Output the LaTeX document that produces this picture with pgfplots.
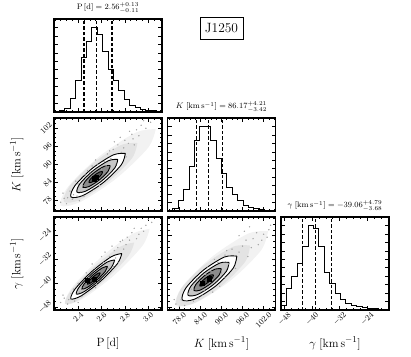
\documentclass[border=0pt]{standalone}
\usepackage{pgfplots}
\pgfplotsset{compat=1.18}
\usepackage{graphicx}
\pgfplotsset{
  cp/.style={
    scale only axis, width=108bp, height=93bp, anchor=north west,
    axis line style={line width=1.1pt},
    tick align=inside,
    major tick length=4bp, minor tick length=2.2bp,
    every tick/.append style={line width=0.55pt, black},
    tick label style={font=\fontsize{8.5}{9}\selectfont},
    xticklabel style={anchor=north, inner sep=1.5bp},
    yticklabel style={anchor=east, inner sep=1.5bp},
    label style={font=\fontsize{13}{15}\selectfont},
    xlabel style={at={(axis description cs:0.5,-0.36)}, anchor=center},
    ylabel style={at={(axis description cs:-0.345,0.5)}, anchor=center},
    title style={font=\fontsize{8}{9}\selectfont, at={(axis description cs:0.5,1)}, anchor=south, yshift=-4bp},
  },
  Px/.style={xmin=2.193, xmax=3.118, xtick={2.4,2.6,2.8,3.0}, minor xtick={2.2,2.25,...,3.101}},
  Kx/.style={xmin=74.6, xmax=105.4, xtick={78,84,90,96,102}, minor xtick={75,76.5,...,105.1}},
  Gx/.style={xmin=-49.0, xmax=-17.7, xtick={-48,-40,-32,-24}, minor xtick={-48,-46,...,-18}},
  Ky/.style={ymin=74.6, ymax=105.4, ytick={78,84,90,96,102}, minor ytick={75,76.5,...,105.1}},
  Gy/.style={ymin=-49.0, ymax=-17.7, ytick={-48,-40,-32,-24}, minor ytick={-48,-46,...,-18}},
  Hy/.style={ymin=0, ymax=1.1, ytick={0.1,0.2,...,1.01}, yticklabels={}},
  hist/.style={black, line width=0.85pt, const plot, mark=none},
  qline/.style={black, line width=1.1pt, dash pattern=on 3.5pt off 2pt},
  haze1/.style={draw=none, fill=black!5, smooth},
  haze2/.style={draw=none, fill=black!11, smooth},
  dots/.style={only marks, mark=*, mark size=0.45pt, black!35},
  c2/.style={draw=black, line width=0.9pt, fill=white, smooth},
  c15/.style={draw=black, line width=0.9pt, fill=black!22, smooth},
  c1/.style={draw=black, line width=0.9pt, fill=black!45, smooth},
  c05/.style={draw=black, line width=0.9pt, fill=black!68, smooth},
  peak/.style={only marks, mark=square*, mark size=2.1pt, black},
}
\begin{document}
\begin{tikzpicture}
\useasboundingbox (0bp,0bp) rectangle (411bp,-357bp);

% ---------- P histogram ----------
\begin{axis}[cp, at={(54bp,-19bp)}, Px, Hy, xticklabels={},
  title={$\mathrm{P}\,[\mathrm{d}] = 2.56^{+0.13}_{-0.11}$}]
\addplot[hist] coordinates {(2.193,0.005) (2.2393,0.02) (2.2855,0.04) (2.3318,0.16) (2.378,0.375) (2.4243,0.65) (2.4705,0.84) (2.5168,1.0) (2.563,0.92) (2.6093,0.72) (2.6555,0.5) (2.7018,0.375) (2.748,0.26) (2.7943,0.15) (2.8405,0.08) (2.8868,0.055) (2.933,0.03) (2.9793,0.023) (3.0255,0.015) (3.0718,0.008) (3.118,0.008)};
\addplot[qline] coordinates {(2.45,0) (2.45,1.1)};
\addplot[qline] coordinates {(2.56,0) (2.56,1.1)};
\addplot[qline] coordinates {(2.69,0) (2.69,1.1)};
\end{axis}

% ---------- P-K ----------
\begin{axis}[cp, at={(54bp,-118bp)}, Px, Ky, xticklabels={},
  yticklabels={\rotatebox{45}{$78$},\rotatebox{45}{$84$},\rotatebox{45}{$90$},\rotatebox{45}{$96$},\rotatebox{45}{$102$}},
  ylabel={$K\;[\mathrm{km\,s^{-1}}]$}]
\addplot[haze1] coordinates {(3.064,101.71) (2.891,100.53) (2.580,92.64) (2.314,82.67) (2.248,76.45) (2.421,77.63) (2.731,85.52) (2.998,95.49) (3.064,101.71)};
\addplot[haze2] coordinates {(2.907,97.11) (2.768,96.44) (2.527,90.46) (2.324,82.67) (2.278,77.63) (2.416,78.30) (2.658,84.28) (2.861,92.07) (2.907,97.11)};
\addplot[dots] coordinates {(2.25,77.5) (2.28,78.8) (2.31,79.0) (2.33,81.2) (2.36,80.0) (2.40,83.5) (2.42,81.0) (2.46,86.5) (2.48,88.0) (2.52,89.5) (2.58,83.0) (2.62,91.0) (2.65,93.5) (2.68,92.0) (2.70,95.0) (2.74,96.5) (2.77,94.0) (2.80,98.0) (2.83,97.0) (2.86,100.0) (2.90,101.5) (2.94,103.0) (2.98,102.0) (3.02,104.0) (2.72,90.0) (2.60,88.5) (2.45,79.5) (2.38,84.5) (2.55,91.5) (2.88,96.5)
 (2.30,77.0) (2.35,78.5) (2.39,79.5) (2.44,83.0) (2.50,87.5) (2.57,90.0) (2.64,89.5) (2.67,94.5) (2.71,97.5) (2.76,99.0) (2.79,95.5) (2.84,101.0) (2.87,98.5) (2.92,99.5) (2.96,104.5) (2.81,92.5) (2.66,87.0) (2.53,82.0) (2.41,78.0) (2.27,80.5)};
\addplot[c2] coordinates {(2.804,93.68) (2.701,93.18) (2.522,88.76) (2.372,82.98) (2.338,79.25) (2.441,79.74) (2.620,84.17) (2.770,89.94) (2.804,93.68)};
\addplot[c15] coordinates {(2.739,91.67) (2.662,91.30) (2.528,87.98) (2.415,83.65) (2.390,80.85) (2.467,81.22) (2.601,84.54) (2.714,88.87) (2.739,91.67)};
\addplot[c1] coordinates {(2.674,89.66) (2.623,89.41) (2.533,87.20) (2.458,84.31) (2.441,82.45) (2.492,82.69) (2.582,84.91) (2.657,87.79) (2.674,89.66)};
\addplot[c05] coordinates {(2.609,87.65) (2.584,87.53) (2.539,86.42) (2.501,84.98) (2.493,84.04) (2.518,84.17) (2.563,85.27) (2.601,86.72) (2.609,87.65)};
\addplot[peak] coordinates {(2.537,85.3) (2.553,85.9)};
\end{axis}

% ---------- K histogram ----------
\begin{axis}[cp, at={(167.5bp,-118bp)}, Kx, Hy, xticklabels={},
  title={$K\;[\mathrm{km\,s^{-1}}] = 86.17^{+4.21}_{-3.42}$}]
\addplot[hist] coordinates {(74.6,0.005) (76.14,0.03) (77.68,0.12) (79.22,0.256) (80.76,0.53) (82.3,0.83) (83.84,1.0) (85.38,1.0) (86.92,0.84) (88.46,0.62) (90.0,0.45) (91.54,0.28) (93.08,0.2) (94.62,0.128) (96.16,0.07) (97.7,0.047) (99.24,0.03) (100.78,0.02) (102.32,0.01) (103.86,0.005) (105.4,0.005)};
\addplot[qline] coordinates {(82.75,0) (82.75,1.1)};
\addplot[qline] coordinates {(86.17,0) (86.17,1.1)};
\addplot[qline] coordinates {(90.38,0) (90.38,1.1)};
\end{axis}

% ---------- P-gamma ----------
\begin{axis}[cp, at={(54bp,-217bp)}, Px, Gy,
  xticklabels={\rotatebox{45}{$2.4$},\rotatebox{45}{$2.6$},\rotatebox{45}{$2.8$},\rotatebox{45}{$3.0$}},
  yticklabels={\rotatebox{45}{$-48$},\rotatebox{45}{$-40$},\rotatebox{45}{$-32$},\rotatebox{45}{$-24$}},
  xlabel={$\mathrm{P}\,[\mathrm{d}]$}, ylabel={$\gamma\;[\mathrm{km\,s^{-1}}]$}]
\addplot[haze1] coordinates {(3.012,-21.73) (2.862,-23.45) (2.5875,-31.56) (2.350,-41.32) (2.287,-47.01) (2.4375,-45.29) (2.712,-37.18) (2.950,-27.42) (3.012,-21.73)};
\addplot[haze2] coordinates {(2.880,-26.30) (2.758,-27.74) (2.535,-34.37) (2.341,-42.31) (2.289,-46.92) (2.411,-45.48) (2.634,-38.85) (2.829,-30.91) (2.880,-26.30)};
\addplot[dots] coordinates {(2.25,-46.5) (2.28,-45.0) (2.31,-47.0) (2.34,-43.5) (2.37,-46.0) (2.40,-40.0) (2.43,-44.5) (2.47,-36.5) (2.52,-33.5) (2.56,-40.5) (2.60,-31.0) (2.63,-29.5) (2.66,-35.0) (2.69,-27.5) (2.72,-31.5) (2.76,-26.0) (2.79,-28.5) (2.82,-24.5) (2.86,-23.0) (2.90,-25.0) (2.94,-21.5) (2.98,-20.5) (3.03,-19.5) (2.74,-33.0) (2.58,-36.0) (2.45,-41.5)
 (2.27,-44.0) (2.32,-45.5) (2.36,-42.0) (2.41,-43.0) (2.49,-38.0) (2.54,-35.0) (2.62,-33.0) (2.67,-31.0) (2.71,-29.0) (2.74,-28.0) (2.78,-25.5) (2.81,-27.0) (2.84,-25.5) (2.88,-21.5) (2.92,-23.5) (2.96,-22.5) (3.00,-18.5) (2.70,-34.5) (2.55,-41.5) (2.40,-46.5)};
\addplot[c2] coordinates {(2.774,-30.00) (2.684,-31.06) (2.519,-35.97) (2.375,-41.86) (2.337,-45.27) (2.427,-44.20) (2.592,-39.29) (2.736,-33.41) (2.774,-30.00)};
\addplot[c15] coordinates {(2.7125,-32.15) (2.645,-32.95) (2.521,-36.63) (2.413,-41.05) (2.384,-43.61) (2.452,-42.81) (2.576,-39.12) (2.684,-34.71) (2.7125,-32.15)};
\addplot[c1] coordinates {(2.651,-34.31) (2.606,-34.84) (2.523,-37.30) (2.451,-40.24) (2.432,-41.94) (2.477,-41.41) (2.560,-38.96) (2.632,-36.01) (2.651,-34.31)};
\addplot[c05] coordinates {(2.589,-36.46) (2.567,-36.73) (2.525,-37.96) (2.489,-39.43) (2.480,-40.28) (2.502,-40.02) (2.544,-38.79) (2.580,-37.32) (2.589,-36.46)};
\addplot[peak] coordinates {(2.478,-39.03) (2.536,-38.56)};
\end{axis}

% ---------- K-gamma ----------
\begin{axis}[cp, at={(167.5bp,-217bp)}, Kx, Gy, yticklabels={},
  xticklabels={\rotatebox{45}{$78.0$},\rotatebox{45}{$84.0$},\rotatebox{45}{$90.0$},\rotatebox{45}{$96.0$},\rotatebox{45}{$102.0$}},
  xlabel={$K\;[\mathrm{km\,s^{-1}}]$}]
\addplot[haze1] coordinates {(103.26,-22.49) (97.55,-23.31) (87.47,-30.94) (78.93,-40.92) (76.92,-47.41) (82.63,-46.60) (92.71,-38.96) (101.25,-28.98) (103.26,-22.49)};
\addplot[haze2] coordinates {(98.14,-27.32) (93.40,-27.68) (85.29,-33.64) (78.56,-41.72) (77.15,-47.18) (81.89,-46.82) (90.00,-40.86) (96.73,-32.78) (98.14,-27.32)};
\addplot[dots] coordinates {(77.0,-47.0) (78.5,-45.5) (79.5,-47.5) (80.5,-43.5) (82.0,-46.0) (83.0,-38.5) (84.5,-44.0) (86.0,-34.5) (88.0,-32.0) (89.5,-41.0) (91.0,-30.5) (93.0,-28.5) (94.0,-35.0) (96.0,-27.5) (97.5,-31.0) (99.0,-25.0) (100.5,-27.0) (102.0,-23.5) (103.5,-22.0) (95.0,-24.0) (92.0,-33.5) (85.0,-42.5) (98.0,-21.0) (90.0,-36.5)
 (76.5,-45.5) (78.0,-47.8) (80.0,-46.0) (81.5,-42.0) (83.5,-45.0) (85.5,-37.0) (87.0,-36.0) (89.0,-33.0) (91.5,-29.0) (93.5,-31.0) (95.0,-29.5) (97.0,-25.5) (98.5,-28.0) (100.0,-23.0) (101.5,-25.5) (103.0,-24.5) (104.0,-20.5) (96.5,-22.5) (91.0,-38.0) (87.5,-43.0)};
\addplot[c2] coordinates {(94.37,-30.89) (90.85,-31.16) (84.84,-35.58) (79.86,-41.56) (78.82,-45.61) (82.33,-45.34) (88.34,-40.92) (93.32,-34.94) (94.37,-30.89)};
\addplot[c15] coordinates {(92.14,-32.99) (89.51,-33.19) (85.00,-36.51) (81.26,-41.00) (80.48,-44.03) (83.12,-43.83) (87.62,-40.52) (91.36,-36.03) (92.14,-32.99)};
\addplot[c1] coordinates {(89.92,-35.10) (88.17,-35.23) (85.16,-37.44) (82.67,-40.43) (82.15,-42.45) (83.90,-42.32) (86.91,-40.11) (89.40,-37.12) (89.92,-35.10)};
\addplot[c05] coordinates {(87.70,-37.20) (86.82,-37.26) (85.32,-38.37) (84.075,-39.865) (83.81,-40.88) (84.69,-40.81) (86.195,-39.71) (87.44,-38.21) (87.70,-37.20)};
\addplot[peak] coordinates {(84.58,-39.92) (86.47,-38.45)};
\end{axis}

% ---------- gamma histogram ----------
\begin{axis}[cp, at={(281bp,-217bp)}, Gx, Hy,
  xticklabels={\rotatebox{45}{$-48$},\rotatebox{45}{$-40$},\rotatebox{45}{$-32$},\rotatebox{45}{$-24$}},
  xlabel={$\gamma\;[\mathrm{km\,s^{-1}}]$},
  title={$\gamma\;[\mathrm{km\,s^{-1}}] = -39.06^{+4.79}_{-3.68}$}]
\addplot[hist] coordinates {(-49.0,0.06) (-47.435,0.25) (-45.87,0.40) (-44.305,0.55) (-42.74,0.75) (-41.175,1.0) (-39.61,0.97) (-38.045,0.75) (-36.48,0.45) (-34.915,0.31) (-33.35,0.2) (-31.785,0.13) (-30.22,0.08) (-28.655,0.05) (-27.09,0.04) (-25.525,0.03) (-23.96,0.02) (-22.395,0.015) (-20.83,0.01) (-19.265,0.005) (-17.7,0.005)};
\addplot[qline] coordinates {(-42.74,0) (-42.74,1.1)};
\addplot[qline] coordinates {(-39.06,0) (-39.06,1.1)};
\addplot[qline] coordinates {(-34.27,0) (-34.27,1.1)};
\end{axis}

\node[draw=black, line width=0.9pt, minimum width=43bp, minimum height=22bp, inner sep=0pt, font=\fontsize{13.5}{14}\selectfont] at (221.5bp,-28bp) {J1250};
\end{tikzpicture}
\end{document}
